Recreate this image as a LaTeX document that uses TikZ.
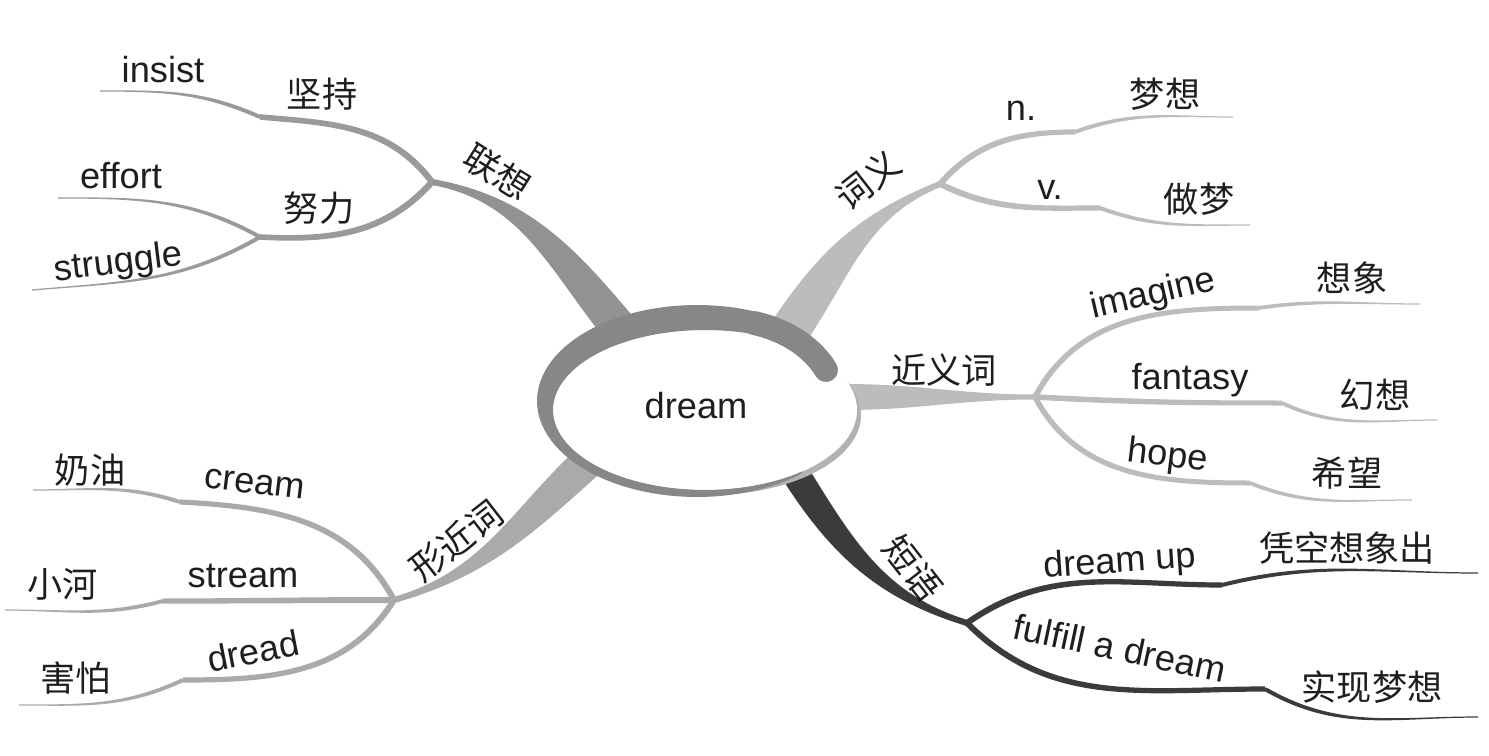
\documentclass[tikz,border=0pt]{standalone}
\usepackage{fontspec}
\setmainfont{Liberation Sans}
\newfontfamily\cjk{Noto Sans CJK SC}
\usetikzlibrary{calc}
\definecolor{ringgray}{HTML}{878787}
\definecolor{lxgray}{HTML}{929292}
\definecolor{lxsub}{HTML}{9A9A9A}
\definecolor{cygray}{HTML}{BCBCBC}
\definecolor{xjgray}{HTML}{AAAAAA}
\definecolor{dygray}{HTML}{3C3B3B}
\definecolor{ink}{HTML}{1E1E1E}
\tikzset{
  en/.style={font=\fontsize{10.3pt}{12pt}\selectfont, text=ink, inner sep=0pt},
  zh/.style={font=\fontsize{10pt}{12pt}\selectfont\cjk, text=ink, inner sep=0pt}
}
% tapered branch: style, from, to, out, in, half width at from, half width at to
\newcommand{\twig}[7]{%
  \fill[#1] ($(#2)+(#4+90:#6)$) to[out=#4,in=#5] ($(#3)+(#5-90:#7)$)
    -- ($(#3)+(#5+90:#7)$) to[out=#5,in=#4] ($(#2)+(#4-90:#6)$) -- cycle;}

\begin{document}
\begin{tikzpicture}[x=0.01cm, y=0.01cm]
  \useasboundingbox (0,0) rectangle (1489,-755);

  % === knots ===
  \coordinate (lxbase) at (625,-335);
  \coordinate (lx) at (432,-182);
  \coordinate (kjc) at (260,-117);
  \coordinate (knl) at (260,-237);
  \coordinate (insistend) at (100,-91);
  \coordinate (effortend) at (58,-198);
  \coordinate (struggleend) at (32,-290);

  \coordinate (cybase) at (790,-330);
  \coordinate (cy) at (940,-184);
  \coordinate (kn) at (1075,-132);
  \coordinate (nend) at (1233,-117);
  \coordinate (kv) at (1100,-208);
  \coordinate (vend) at (1250,-225);

  \coordinate (jybase) at (845,-397);
  \coordinate (jy) at (1035,-397);
  \coordinate (kim) at (1258,-308);
  \coordinate (imend) at (1420,-304);
  \coordinate (kfa) at (1282,-403);
  \coordinate (faend) at (1437,-420);
  \coordinate (kho) at (1250,-483);
  \coordinate (hoend) at (1412,-500);

  \coordinate (xjbase) at (595,-455);
  \coordinate (xj) at (394,-600);
  \coordinate (kcr) at (180,-502);
  \coordinate (crend) at (33,-490);
  \coordinate (kst) at (163,-601);
  \coordinate (stend) at (5,-610);
  \coordinate (kdr) at (183,-680);
  \coordinate (drend) at (19,-705);

  \coordinate (dybase) at (790,-465);
  \coordinate (dy) at (967,-623);
  \coordinate (kup) at (1222,-585);
  \coordinate (upend) at (1478,-573);
  \coordinate (kfu) at (1265,-689);
  \coordinate (fuend) at (1478,-717);

  % === branches ===
  \twig{lxgray}{lxbase}{lx}{130}{-10}{18}{3}
  \twig{lxsub}{lx}{kjc}{127}{-5}{3.2}{2.8}
  \twig{lxsub}{kjc}{insistend}{156}{0}{2}{0.6}
  \twig{lxsub}{lx}{knl}{228}{-3}{3.2}{2.8}
  \twig{lxsub}{knl}{effortend}{151}{0}{2}{0.6}
  \twig{lxsub}{knl}{struggleend}{210}{5}{2}{0.6}

  \twig{cygray}{cybase}{cy}{56}{202}{20}{3}
  \twig{cygray}{cy}{kn}{49}{180}{3}{2.6}
  \twig{cygray}{kn}{nend}{20}{180}{2}{0.6}
  \twig{cygray}{cy}{kv}{-26}{180}{3}{2.6}
  \twig{cygray}{kv}{vend}{-20}{180}{2}{0.6}

  \twig{cygray}{jybase}{jy}{0}{180}{13}{2.5}
  \twig{cygray}{jy}{kim}{62}{180}{2.8}{2.5}
  \twig{cygray}{kim}{imend}{8}{180}{1.9}{0.6}
  \twig{cygray}{jy}{kfa}{-3}{180}{2.8}{2.5}
  \twig{cygray}{kfa}{faend}{-25}{180}{1.9}{0.6}
  \twig{cygray}{jy}{kho}{-62}{180}{2.8}{2.5}
  \twig{cygray}{kho}{hoend}{-22}{180}{1.9}{0.6}

  \twig{xjgray}{xjbase}{xj}{222}{16}{17}{3}
  \twig{xjgray}{xj}{kcr}{118}{-3}{3}{2.6}
  \twig{xjgray}{kcr}{crend}{162}{0}{2}{0.6}
  \twig{xjgray}{xj}{kst}{180}{0}{3}{2.6}
  \twig{xjgray}{kst}{stend}{195}{0}{2}{0.6}
  \twig{xjgray}{xj}{kdr}{238}{0}{3}{2.6}
  \twig{xjgray}{kdr}{drend}{205}{0}{2}{0.6}

  \twig{dygray}{dybase}{dy}{-58}{163}{14}{3}
  \twig{dygray}{dy}{kup}{35}{180}{3}{2.6}
  \twig{dygray}{kup}{upend}{14}{180}{2}{0.6}
  \twig{dygray}{dy}{kfu}{-45}{180}{3}{2.6}
  \twig{dygray}{kfu}{fuend}{-30}{180}{2}{0.6}

  % === centre ===
  \fill[gray!60] (709,-415) ellipse [x radius=152, y radius=80];
  \fill[white] (705,-410) ellipse [x radius=152, y radius=80];
  \fill[ringgray] plot[domain=-50:-295, samples=80, variable=\t] ({697+160*cos(\t)},{-401+96*sin(\t)})
    -- plot[domain=-295:-50, samples=80, variable=\t] ({705+152*cos(\t)},{-410+80*sin(\t)}) -- cycle;
  \draw[ringgray, line width=6.8pt, line cap=round] (754,-323) .. controls (790,-331) and (814,-350) .. (826,-370);
  \node[en] (dream) at (696,-406) {dream};

  % === labels ===
  \node[zh, rotate=-32] (lianxiang) at (497,-172) {联想};
  \node[en] (insist) at (163,-70) {insist};
  \node[zh] (jianchi) at (322,-94) {坚持};
  \node[en] (effort) at (121,-176) {effort};
  \node[zh] (nuli) at (319,-208) {努力};
  \node[en, rotate=7] (struggle) at (118,-264) {struggle};

  \node[zh, rotate=38] (ciyi) at (868,-180) {词义};
  \node[en] (noun) at (1021,-111) {n.};
  \node[zh] (mengxiang) at (1165,-94) {梦想};
  \node[en] (verb) at (1050,-190) {v.};
  \node[zh] (zuomeng) at (1199,-199) {做梦};

  \node[zh] (jinyici) at (944,-370) {近义词};
  \node[en, rotate=13] (imagine) at (1153,-295) {imagine};
  \node[zh] (xiangxiang) at (1352,-278) {想象};
  \node[en] (fantasy) at (1190,-380) {fantasy};
  \node[zh] (huanxiang) at (1375,-395) {幻想};
  \node[en, rotate=-7] (hope) at (1168,-457) {hope};
  \node[zh] (xiwang) at (1347,-473) {希望};

  \node[zh, rotate=38] (xingjinci) at (456,-541) {形近词};
  \node[en, rotate=-7] (cream) at (255,-484) {cream};
  \node[zh] (naiyou) at (90,-470) {奶油};
  \node[en] (stream) at (243,-576) {stream};
  \node[zh] (xiaohe) at (63,-584) {小河};
  \node[en, rotate=11] (dread) at (253,-651) {dread};
  \node[zh] (haipa) at (76,-678) {害怕};

  \node[zh, rotate=-52] (duanyu) at (913,-568) {短语};
  \node[en, rotate=4] (dreamup) at (1120,-563) {dream up};
  \node[zh] (pingkong) at (1347,-548) {凭空想象出};
  \node[en, rotate=-12] (fulfill) at (1120,-648) {fulfill a dream};
  \node[zh] (shixian) at (1372,-687) {实现梦想};
\end{tikzpicture}
\end{document}
